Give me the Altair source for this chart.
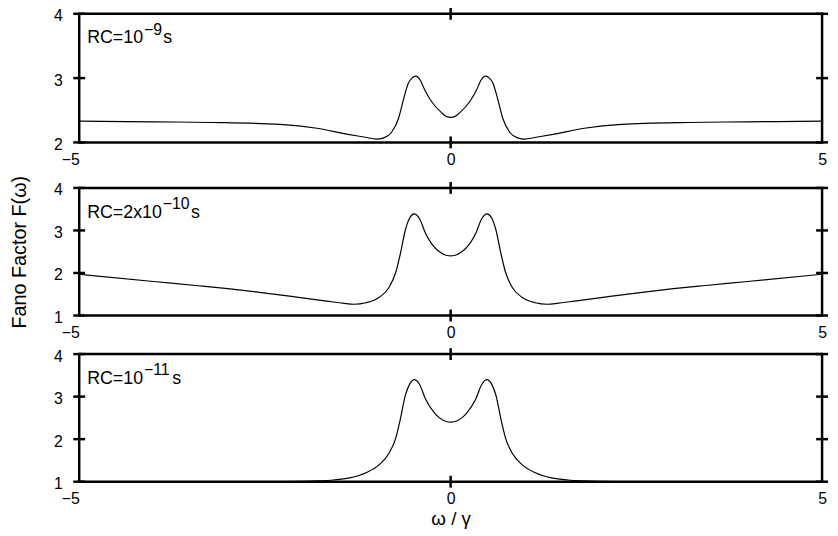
import altair as alt
import pandas as pd

FONT = "Liberation Sans"
X_TICKS = [-5, 0, 5]

# Panel 1: RC = 1e-9 s
p1_x = [-5, -4, -3.2, -2.3, -1.8, -1.4, -1.15, -1.0, -0.9, -0.8, -0.7, -0.63, -0.57, -0.52, -0.47, -0.41, -0.35, -0.26, -0.12, -0.06,
        0,
        0.06, 0.12, 0.26, 0.35, 0.41, 0.47, 0.52, 0.57, 0.63, 0.7, 0.8, 0.9, 1.0, 1.15, 1.4, 1.8, 2.3, 3.2, 4, 5]
p1_y = [2.33, 2.32, 2.31, 2.28, 2.22, 2.13, 2.08, 2.05, 2.07, 2.15, 2.38, 2.69, 2.92, 3.00, 3.03, 2.97, 2.82, 2.64, 2.46, 2.405,
        2.39,
        2.405, 2.46, 2.64, 2.82, 2.97, 3.03, 3.00, 2.92, 2.69, 2.38, 2.15, 2.07, 2.05, 2.08, 2.13, 2.22, 2.28, 2.31, 2.32, 2.33]

# Panel 2: RC = 2e-10 s
p2_x = [-5, -4, -3.4, -3.0, -2.55, -2.1, -1.67, -1.45, -1.3, -1.14, -0.96, -0.83, -0.74, -0.675, -0.61, -0.55, -0.49, -0.42, -0.34, -0.21, -0.15, -0.05,
        0,
        0.05, 0.15, 0.21, 0.34, 0.42, 0.49, 0.55, 0.61, 0.675, 0.74, 0.83, 0.96, 1.14, 1.3, 1.45, 1.67, 2.1, 2.55, 3.0, 3.4, 4, 5]
p2_y = [1.97, 1.80, 1.70, 1.63, 1.54, 1.44, 1.34, 1.29, 1.265, 1.30, 1.43, 1.66, 2.01, 2.47, 3.01, 3.30, 3.39, 3.28, 2.94, 2.59, 2.50, 2.41,
        2.40,
        2.41, 2.50, 2.59, 2.94, 3.28, 3.39, 3.30, 3.01, 2.47, 2.01, 1.66, 1.43, 1.30, 1.265, 1.29, 1.34, 1.44, 1.54, 1.63, 1.70, 1.80, 1.97]

# Panel 3: RC = 1e-11 s
p3_x = [-5, -3.5, -2.5, -2.0, -1.8, -1.58, -1.36, -1.14, -0.96, -0.83, -0.74, -0.675, -0.61, -0.55, -0.49, -0.42, -0.34, -0.21, -0.15, -0.05,
        0,
        0.05, 0.15, 0.21, 0.34, 0.42, 0.49, 0.55, 0.61, 0.675, 0.74, 0.83, 0.96, 1.14, 1.36, 1.58, 1.8, 2.0, 2.5, 3.5, 5]
p3_y = [1.0, 1.0, 1.0, 1.01, 1.02, 1.04, 1.09, 1.21, 1.40, 1.67, 2.02, 2.49, 3.03, 3.30, 3.40, 3.29, 2.95, 2.60, 2.50, 2.41,
        2.40,
        2.41, 2.50, 2.60, 2.95, 3.29, 3.40, 3.30, 3.03, 2.49, 2.02, 1.67, 1.40, 1.21, 1.09, 1.04, 1.02, 1.01, 1.0, 1.0, 1.0]

W = 751
LABEL_EXPR = "replace(toString(round(datum.value)), '-', '\u2212')"


def panel(xs, ys, ymin, yvals, base, sup, tail, sup_x, tail_x, h, ytitle=None, xtitle=None):
    df = pd.DataFrame({"x": xs, "y": ys})
    xsc = alt.Scale(domain=[-5, 5], nice=False, zero=False)
    ysc = alt.Scale(domain=[ymin, 4], nice=False, zero=False)

    xaxis = alt.Axis(values=X_TICKS, ticks=False, tickSize=0, domain=False, grid=False, labelExpr=LABEL_EXPR,
                     labelAlign={"condition": {"test": "datum.value < 0", "value": "right"}, "value": "center"},
                     labelPadding=9, labelFontSize=16, labelFont=FONT, labelColor="black",
                     labelFlush=False, labelOverlap=False, title=xtitle, titleFont=FONT, titleFontSize=19,
                     titleFontWeight="normal", titleColor="black", titlePadding=3)
    yaxis = alt.Axis(values=yvals, ticks=False, tickSize=0, domain=False, grid=False, labelExpr=LABEL_EXPR,
                     labelPadding=17, labelFontSize=16, labelFont=FONT, labelColor="black",
                     labelFlush=False, labelOverlap=False, labelOffset=2, title=ytitle, titleFont=FONT,
                     titleFontSize=20, titleFontWeight="normal", titleColor="black", titlePadding=24)

    line = alt.Chart(df).mark_line(color="black", strokeWidth=1.2, interpolate="monotone", clip=True).encode(
        x=alt.X("x:Q", scale=xsc, axis=xaxis),
        y=alt.Y("y:Q", scale=ysc, axis=yaxis),
    )

    ydf = pd.DataFrame({"v": yvals})
    xdf = pd.DataFrame({"v": [0]})
    tl = alt.Chart(ydf).mark_tick(color="black", thickness=2.5, size=12, orient="horizontal", opacity=1).encode(
        y=alt.Y("v:Q", scale=ysc, axis=yaxis), x=alt.value(0))
    tr = alt.Chart(ydf).mark_tick(color="black", thickness=2.5, size=12, orient="horizontal", opacity=1).encode(
        y=alt.Y("v:Q", scale=ysc, axis=yaxis), x=alt.value(W))
    tb = alt.Chart(xdf).mark_tick(color="black", thickness=2.5, size=12, orient="vertical", opacity=1).encode(
        x=alt.X("v:Q", scale=xsc, axis=xaxis), y=alt.value(h))
    tt = alt.Chart(xdf).mark_tick(color="black", thickness=2.5, size=12, orient="vertical", opacity=1).encode(
        x=alt.X("v:Q", scale=xsc, axis=xaxis), y=alt.value(0))

    t1 = alt.Chart(pd.DataFrame({"t": [base]})).mark_text(
        align="left", baseline="alphabetic", font=FONT, fontSize=18, color="black").encode(
        text="t:N", x=alt.value(8), y=alt.value(30))
    t2 = alt.Chart(pd.DataFrame({"t": [sup]})).mark_text(
        align="left", baseline="alphabetic", font=FONT, fontSize=16, color="black").encode(
        text="t:N", x=alt.value(sup_x), y=alt.value(21))
    t3 = alt.Chart(pd.DataFrame({"t": [tail]})).mark_text(
        align="left", baseline="alphabetic", font=FONT, fontSize=18, color="black").encode(
        text="t:N", x=alt.value(tail_x), y=alt.value(30))

    return alt.layer(line, t1, t2, t3, tl, tr, tb, tt).properties(width=W, height=h)


c1 = panel(p1_x, p1_y, 2, [2, 3, 4], "RC=10", "\u22129", "s", 65.5, 85, 130)
c2 = panel(p2_x, p2_y, 1, [1, 2, 3, 4], "RC=2x10", "\u221210", "s", 84.5, 113, 129,
           ytitle="Fano Factor F(\u03c9)")
c3 = panel(p3_x, p3_y, 1, [1, 2, 3, 4], "RC=10", "\u221211", "s", 65.5, 94, 129,
           xtitle="\u03c9 / \u03b3")

chart = alt.vconcat(c1, c2, c3, spacing=4, padding={"left": 0, "top": -5, "right": 0, "bottom": 0}).configure_view(
    stroke="black", strokeWidth=2.5)

chart.save("out.html", embed_options={"renderer": "svg", "actions": False})
